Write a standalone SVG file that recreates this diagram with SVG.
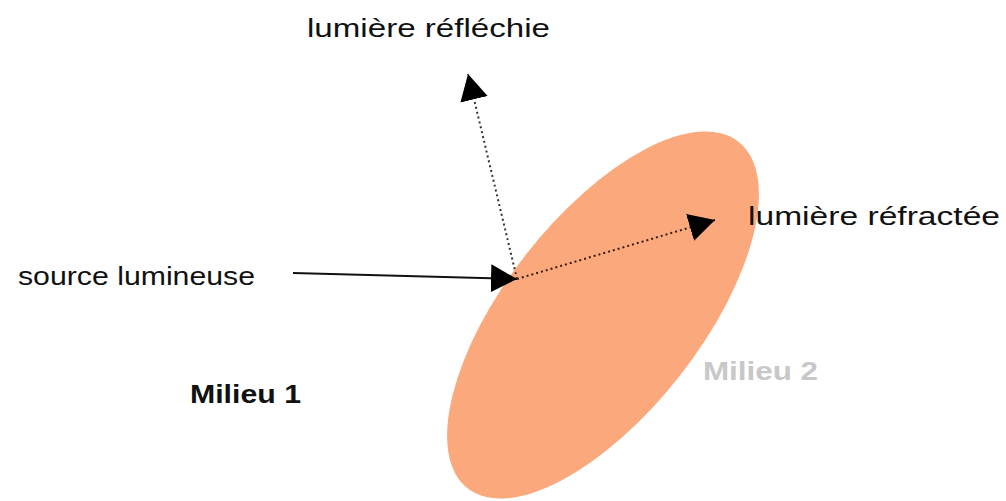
<svg xmlns="http://www.w3.org/2000/svg" width="1006" height="501" viewBox="0 0 1006 501">
<style>
.t{font-family:"Liberation Sans","DejaVu Sans",sans-serif;font-size:26px;fill:#111}
.b{font-family:"Liberation Sans","DejaVu Sans",sans-serif;font-size:26px;font-weight:bold}
.dot{fill:none;stroke-width:2;stroke-dasharray:2 3}
</style>
<defs>
<marker id="ah" markerWidth="28" markerHeight="28" refX="26" refY="14" orient="auto" markerUnits="userSpaceOnUse">
<path d="M0,0 L26,14 L0,28 Z" fill="#000"/>
</marker>
</defs>
<rect width="1006" height="501" fill="#fff"/>
<g id="milieu2-shape">
<ellipse cx="603" cy="315" rx="220" ry="98" transform="rotate(-52 603 315)" fill="#FBA97C"/>
</g>
<g id="connectors">
<line x1="293" y1="273" x2="517" y2="279" stroke="#111" stroke-width="2" marker-end="url(#ah)"/>
<line x1="517" y1="279" x2="468" y2="74" class="dot" stroke="#333" marker-end="url(#ah)"/>
<line x1="517" y1="279" x2="715" y2="220" class="dot" stroke="#3a1a0a" marker-end="url(#ah)"/>
</g>
<g id="label-reflechie"><text class="t" x="307" y="37" textLength="243" lengthAdjust="spacingAndGlyphs">lumière réfléchie</text></g>
<g id="label-source"><text class="t" x="18" y="285" textLength="237" lengthAdjust="spacingAndGlyphs">source lumineuse</text></g>
<g id="label-refractee"><text class="t" x="748" y="225" textLength="252" lengthAdjust="spacingAndGlyphs">lumière réfractée</text></g>
<g id="label-milieu1"><text class="b" x="190" y="403" fill="#111" textLength="111" lengthAdjust="spacingAndGlyphs">Milieu 1</text></g>
<g id="label-milieu2"><text class="b" x="703" y="380" fill="#c8c8c8" textLength="115" lengthAdjust="spacingAndGlyphs">Milieu 2</text></g>
</svg>
